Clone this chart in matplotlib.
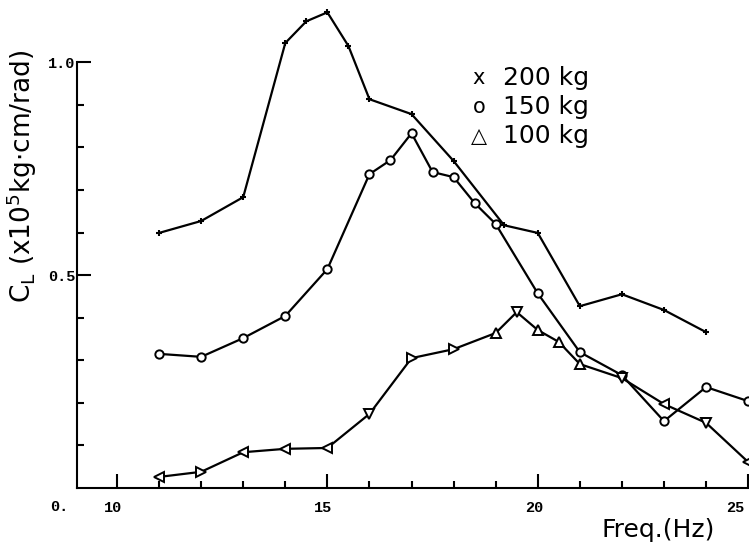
import numpy as np
from matplotlib import pyplot as plt
from matplotlib import transforms

W, H = 749, 546

# 200 kg
freq_200 = [11, 12, 13, 14, 14.5, 15, 15.5, 16, 17, 18, 19.2, 20, 21, 22, 23, 24]
cl_200 = [0.599, 0.627, 0.683, 1.045, 1.096, 1.117, 1.038, 0.913, 0.878, 0.768,
          0.617, 0.599, 0.427, 0.455, 0.418, 0.366]

# 150 kg
freq_150 = [11, 12, 13, 14, 15, 16, 16.5, 17, 17.5, 18, 18.5, 19, 20, 21, 22, 23, 24, 25]
cl_150 = [0.315, 0.308, 0.352, 0.404, 0.514, 0.737, 0.770, 0.833, 0.742, 0.730,
          0.669, 0.620, 0.457, 0.319, 0.265, 0.157, 0.237, 0.204]

# 100 kg
freq_100 = [11, 12, 13, 14, 15, 16, 17, 18, 19, 19.5, 20, 20.5, 21, 22, 23, 24, 25]
cl_100 = [0.026, 0.038, 0.084, 0.092, 0.094, 0.174, 0.305, 0.326, 0.364, 0.413,
          0.371, 0.343, 0.291, 0.258, 0.197, 0.153, 0.061]
tri_100 = ['<', '>', '<', '<', '<', 'v', '>', '>', '^', 'v', '^', '^', '^', 'v', '<', 'v', '<']

x_ticks = [10, 15, 20, 25]
y_ticks = [0.5, 1.0]
legend_sym = ['x', 'o', '\u25b3']
legend_lab = ['200 kg', '150 kg', '100 kg']

fig = plt.figure(figsize=(W / 100, H / 100), dpi=100)
ax = fig.add_axes([77 / W, 58 / H, (W - 77) / W, 488 / H])
ax.set_xlim(9.05, 25.02)
ax.set_ylim(0, 1.146)

lw = 1.6
ax.plot(freq_200, cl_200, color='black', lw=lw, marker='+', ms=5, mew=1.5)
ax.plot(freq_150, cl_150, color='black', lw=lw, marker='o', ms=6, mfc='white', mew=1.4)
ax.plot(freq_100, cl_100, color='black', lw=lw)
for f, c, m in zip(freq_100, cl_100, tri_100):
    ax.plot(f, c, marker=m, ms=6.5, mfc='white', mec='black', mew=1.4, color='black')

for s in ['top', 'right']:
    ax.spines[s].set_visible(False)
ax.spines['left'].set_bounds(0, 1.0)
ax.spines['left'].set_linewidth(1.5)
ax.spines['bottom'].set_linewidth(1.5)

tick_font = dict(family='Liberation Mono', weight='bold', size=11)
ax.set_xticks(x_ticks)
ax.set_xticks(np.arange(10, 26, 1), minor=True)
ax.set_yticks(y_ticks)
ax.set_yticks([0.1, 0.2, 0.3, 0.4, 0.6, 0.7, 0.8, 0.9], minor=True)
ax.set_xticklabels([str(t) for t in x_ticks], **tick_font)
ax.set_yticklabels(['%.1f' % t for t in y_ticks], **tick_font)
ax.tick_params(which='major', direction='in', length=10, width=1.5, pad=9)
ax.tick_params(which='minor', direction='in', length=5, width=1.5)
ax.tick_params(axis='y', pad=1)

shift = transforms.ScaledTranslation(-4 / 100, 0, fig.dpi_scale_trans)
for lbl in ax.get_xticklabels():
    lbl.set_transform(lbl.get_transform() + shift)
ax.get_xticklabels()[-1].set_ha('right')

fig.text(50 / W, 1 - 507 / H, '0.', ha='left', va='center', **tick_font)

fig.text(22 / W, 1 - 176 / H, r'C$_\mathregular{L}$ (x10$^\mathregular{5}$kg$\cdot$cm/rad)',
         rotation=90, ha='center', va='center', fontsize=19)
fig.text(658 / W, 1 - 530 / H, 'Freq.(Hz)', ha='center', va='center', fontsize=18)

for i, (sym, lab) in enumerate(zip(legend_sym, legend_lab)):
    y = 1 - (78 + 29 * i) / H
    fig.text(479 / W, y, sym, ha='center', va='center', fontsize=15)
    fig.text(503 / W, y, lab, ha='left', va='center', fontsize=18)

fig.savefig('out.png', dpi=100)
